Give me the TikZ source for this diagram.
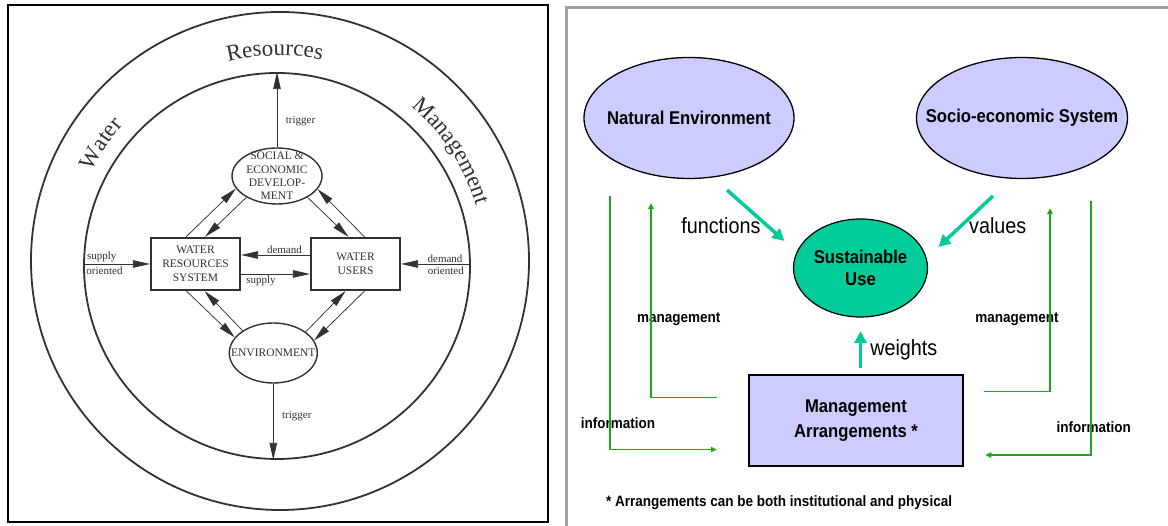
\documentclass[tikz,border=0pt]{standalone}
\usepackage{fontspec}
\usepackage{tikz}
\usetikzlibrary{arrows.meta,positioning,shapes.geometric,decorations.text}
\newfontfamily\scanfont{Liberation Serif}
\newfontfamily\slidefont[FakeStretch=0.9]{Liberation Sans}
\definecolor{scanink}{RGB}{50,50,50}
\definecolor{lavender}{RGB}{204,204,255}
\definecolor{usegreen}{RGB}{0,204,153}
\definecolor{flowgreen}{RGB}{28,168,28}
\definecolor{framegray}{RGB}{160,160,160}

\begin{document}
\begin{tikzpicture}[x=1pt,y=1pt,
  scanline/.style={draw=scanink,line width=1.4pt},
  scanbox/.style={draw=scanink,line width=2.2pt,minimum width=89pt,minimum height=52pt,
    align=center,text=scanink,font=\scanfont\fontsize{11.5}{14}\selectfont},
  scantext/.style={align=center,text=scanink,font=\scanfont\fontsize{11.5}{13.3}\selectfont},
  scanlabel/.style={text=scanink,inner sep=1.5pt,font=\scanfont\fontsize{11}{11}\selectfont},
  scanarrow/.style={draw=scanink,line width=0.75pt,-{Triangle[length=17pt,width=7.5pt]}},
  ringword/.style={decorate,decoration={text along path,text align=center,
    text={|\scanfont\fontsize{23}{23}\selectfont\color{scanink}|#1}}},
  bubble/.style={ellipse,draw,line width=1.3pt,fill=lavender},
  slidebold/.style={align=center,font=\slidefont\bfseries\fontsize{18.5}{22}\selectfont},
  useflow/.style={draw=usegreen,line width=3.5pt,-{Triangle[length=12pt,width=12pt]}},
  useword/.style={font=\slidefont\fontsize{22}{22}\selectfont},
  infoflow/.style={draw=flowgreen,line width=1.6pt,-{Triangle[length=6pt,width=5.5pt]}},
  flowlabel/.style={font=\slidefont\bfseries\fontsize{15}{15}\selectfont}]
  \useasboundingbox (0,0) rectangle (1168,526);

  % water resources management rings
  \draw[black,line width=1.4pt,fill=white] (8,4) rectangle (548,521);
  \node[circle,scanline,line width=1.8pt,minimum size=498pt,inner sep=0pt] (outer) at (280,265) {};
  \node[circle,scanline,line width=1.8pt,minimum size=386pt,inner sep=0pt] (inner) at (277,260) {};
  \coordinate (ring) at (278.5,262.5);
  \path[ringword={Water}] (ring) ++(186:208pt) arc[start angle=186,end angle=106,radius=208pt];
  \path[ringword={Resources}] (ring) ++(131:208pt) arc[start angle=131,end angle=51,radius=208pt];
  \path[ringword={Management}] (ring) ++(73:206pt) arc[start angle=73,end angle=-7,radius=206pt];

  \node[ellipse,scanline,minimum width=90pt,minimum height=56pt,
    label={[scantext]center:SOCIAL \&\\ECONOMIC\\DEVELOP-\\MENT}] (sed) at (277,350) {};
  \node[scanbox] (wrs) at (195.5,262) {WATER\\RESOURCES\\SYSTEM};
  \node[scanbox] (wu) at (355.5,262) {WATER\\USERS};
  \node[ellipse,scanline,minimum width=88pt,minimum height=60pt,
    label={[scantext]center:ENVIRONMENT}] (env) at (273.3,173) {};

  \draw[scanarrow] (sed.north) -- node[scanlabel,pos=.35,right=7pt]{trigger} (inner.north);
  \draw[scanarrow] (env.south) -- node[scanlabel,pos=.43,right=7pt]{trigger} (env.south |- inner.south);
  \draw[scanarrow] (wrs.west -| inner.west) --
    node[scanlabel,pos=.28,above]{supply} node[scanlabel,pos=.32,below=1pt]{oriented} (wrs.west);
  \draw[scanarrow] (wu.east -| inner.east) --
    node[scanlabel,pos=.37,above]{demand} node[scanlabel,pos=.36,below=1pt]{oriented} (wu.east);
  \draw[scanarrow] ([yshift=9pt]wu.west) -- node[scanlabel,pos=.37,above]{demand} ([yshift=9pt]wrs.east);
  \draw[scanarrow] ([yshift=-10pt]wrs.east) -- node[scanlabel,pos=.29,below]{supply} ([yshift=-10pt]wu.west);

  \draw[scanarrow] ([xshift=-9.5pt]wrs.north) -- (sed.197);
  \draw[scanarrow] (sed.215) -- ([xshift=9.5pt]wrs.north);
  \draw[scanarrow] (sed.-35) -- ([xshift=-7pt]wu.north);
  \draw[scanarrow] ([xshift=9pt]wu.north) -- (sed.-18);
  \draw[scanarrow] ([xshift=-9pt]wrs.south) -- (env.158);
  \draw[scanarrow] (env.144) -- ([xshift=9pt]wrs.south);
  \draw[scanarrow] (env.33) -- ([xshift=-10pt]wu.south);
  \draw[scanarrow] ([xshift=9pt]wu.south) -- (env.17);

  % sustainable use scheme
  \draw[framegray,line width=3pt] (566,0) -- (566,518.5) -- (1168,518.5);
  \node[bubble,minimum width=210pt,minimum height=121pt,
    label={[slidebold]center:Natural Environment}] (natenv) at (689,408) {};
  \node[bubble,minimum width=211pt,minimum height=121pt,
    label={[slidebold]center:Socio-economic System}] (socio) at (1022,408) {};
  \node[ellipse,draw,line width=1.2pt,fill=usegreen,minimum width=134pt,minimum height=98pt,
    label={[slidebold]center:Sustainable\\Use}] (sust) at (860.5,258) {};
  \node[draw,line width=2.5pt,fill=lavender,minimum width=214pt,minimum height=91pt,slidebold,
    font=\slidefont\bfseries\fontsize{18.5}{24.5}\selectfont] (mgmt) at (856,105.5)
    {Management\\Arrangements *};

  \draw[useflow] ([shift={(38,-72)}]natenv.center) --
    node[useword,pos=.7,left,inner sep=5pt]{functions} ([shift={(-76,27)}]sust.center);
  \draw[useflow] ([shift={(-29,-78)}]socio.center) --
    node[useword,pos=.58,right,inner sep=6pt]{values} ([shift={(78,21)}]sust.center);
  \draw[useflow,shorten <=5.5pt,shorten >=13.5pt] (mgmt.north -| sust.south) --
    node[useword,pos=.43,right,inner sep=8pt]{weights} (sust.south);

  \node[flowlabel] (mgleft) at (678.7,206.7) {management};
  \node[flowlabel] (infleft) at (618,102.7) {information};
  \node[flowlabel] (mgright) at (1017,207) {management};
  \node[flowlabel] (infright) at (1093.7,99.3) {information};
  \draw[infoflow] ([shift={(-79,-17)}]natenv.south) |- ([shift={(-31,-29)}]mgmt.west);
  \draw[infoflow] ([shift={(-31,23)}]mgmt.west) -| ([shift={(-38,-24)}]natenv.south);
  \draw[infoflow] ([shift={(20,29)}]mgmt.east) -| ([shift={(28,-29)}]socio.south);
  \draw[infoflow] ([shift={(69,-22)}]socio.south) |- ([shift={(21,-34.5)}]mgmt.east);

  \node[flowlabel,anchor=west,inner sep=0pt] (note) at (606,23)
    {* Arrangements can be both institutional and physical};
\end{tikzpicture}
\end{document}
